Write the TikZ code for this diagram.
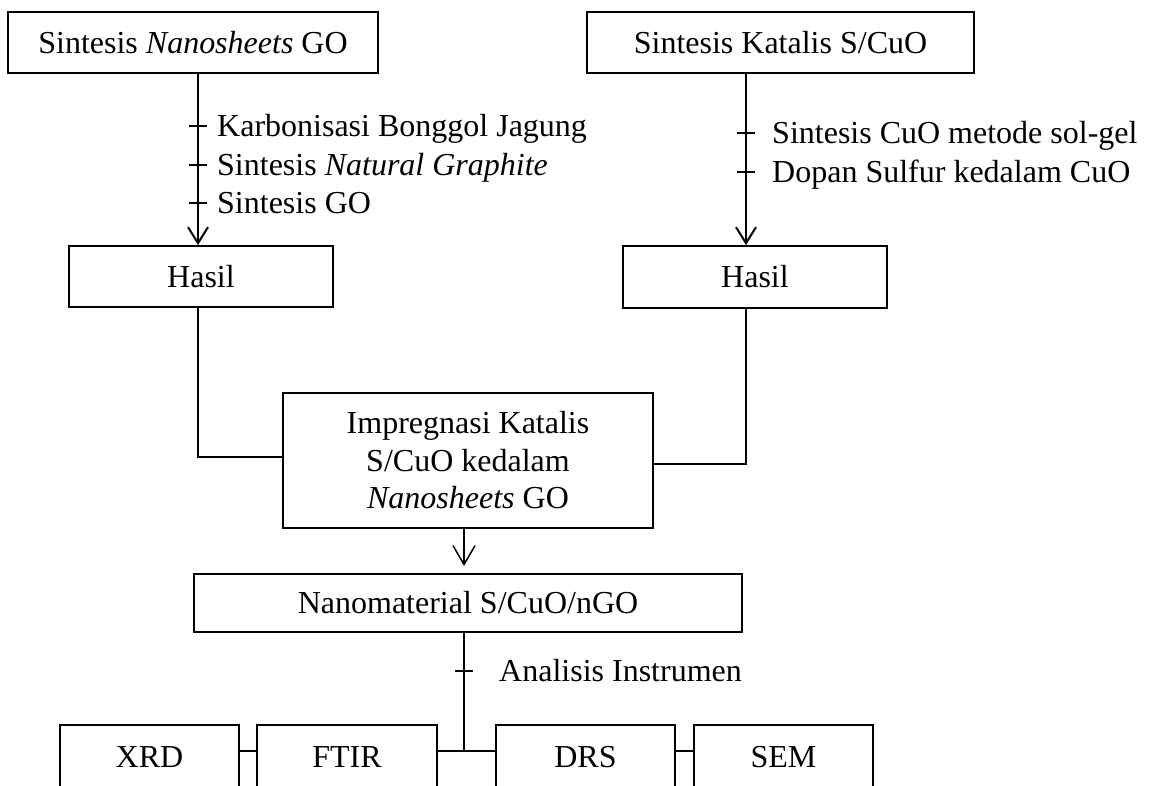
\documentclass[tikz,border=0pt]{standalone}
\usepackage{fontspec}
\setmainfont{Liberation Serif}
\usetikzlibrary{arrows.meta}
\tikzset{
  box/.style={draw, line width=1.9pt, inner sep=0pt, align=center},
  link/.style={line width=2pt},
  thinlink/.style={line width=1.5pt},
  arr/.style={link, -{Straight Barb[length=16pt,width=20pt,line width=2pt]}},
  thinarr/.style={thinlink, -{Straight Barb[length=19pt,width=22pt,line width=1.5pt]}},
  lbl/.style={anchor=base west, inner sep=0pt}
}
\begin{document}
\begin{tikzpicture}[font=\fontsize{32}{37.5}\selectfont]
				\useasboundingbox (0,0) rectangle (1151pt,786pt);
				\clip (0,0) rectangle (1151pt,786pt);
				% boxes
				\node[box, minimum width=370pt, minimum height=61pt] (sintGO) at (193pt,743.5pt) {Sintesis \textit{Nanosheets} GO};
				\node[box, minimum width=387pt, minimum height=61pt] (sintCuO) at (780.5pt,743.5pt) {Sintesis Katalis S/CuO};
				\node[box, minimum width=264pt, minimum height=61pt] (hasilGO) at (201pt,509.5pt) {Hasil};
				\node[box, minimum width=264pt, minimum height=62pt] (hasilCuO) at (755pt,509pt) {Hasil};
				\node[box, minimum width=370pt, minimum height=135pt] (impreg) at (468pt,325.5pt) {Impregnasi Katalis\\S/CuO kedalam\\\textit{Nanosheets} GO};
				\node[box, minimum width=548pt, minimum height=58pt] (nano) at (468pt,183pt) {Nanomaterial S/CuO/nGO};
				\node[box, minimum width=179pt, minimum height=64pt] (xrd) at (149.5pt,29pt) {XRD};
				\node[box, minimum width=180pt, minimum height=64pt] (ftir) at (347pt,29pt) {FTIR};
				\node[box, minimum width=179pt, minimum height=64pt] (drs) at (585.5pt,29pt) {DRS};
				\node[box, minimum width=179pt, minimum height=64pt] (sem) at (783.5pt,29pt) {SEM};
				% columns
				\coordinate (kolGO) at (198pt,0);
				\coordinate (kolCuO) at (746pt,0);
				\coordinate (kolMid) at (464pt,0);
				\coordinate (bus) at (464pt,35pt);
				\coordinate (tA) at (198pt,660pt);
				\coordinate (tB) at (198pt,621pt);
				\coordinate (tC) at (198pt,583pt);
				\coordinate (tD) at (746pt,653pt);
				\coordinate (tE) at (746pt,614pt);
				\coordinate (tF) at (464pt,115pt);
				% connectors
				\draw[arr] (sintGO.south -| kolGO) -- (hasilGO.north -| kolGO);
				\draw[arr] (sintCuO.south -| kolCuO) -- (hasilCuO.north -| kolCuO);
				\draw[link] (hasilGO.south -| kolGO) |- ([yshift=3.5pt]impreg.west);
				\draw[link] (hasilCuO.south -| kolCuO) |- ([yshift=-3.5pt]impreg.east);
				\draw[thinarr, shorten >=7pt] (impreg.south -| kolMid) -- (nano.north -| kolMid);
				\draw[thinlink] (nano.south -| bus) -- (bus);
				\draw[thinlink] (xrd.east |- bus) -- (ftir.west |- bus);
				\draw[thinlink] (ftir.east |- bus) -- (drs.west |- bus);
				\draw[thinlink] (drs.east |- bus) -- (sem.west |- bus);
				\foreach \P in {tA,tB,tC,tD,tE,tF} \draw[thinlink] ([xshift=-9pt]\P) -- ([xshift=9pt]\P);
				% labels
				\node[lbl] (lblA) at ([xshift=19pt,yshift=-11pt]tA) {Karbonisasi Bonggol Jagung};
				\node[lbl] (lblB) at ([xshift=19pt,yshift=-11pt]tB) {Sintesis \textit{Natural Graphite}};
				\node[lbl] (lblC) at ([xshift=19pt,yshift=-11pt]tC) {Sintesis GO};
				\node[lbl] (lblD) at ([xshift=26pt,yshift=-11pt]tD) {Sintesis CuO metode sol-gel};
				\node[lbl] (lblE) at ([xshift=26pt,yshift=-11pt]tE) {Dopan Sulfur kedalam CuO};
				\node[lbl] (lblF) at ([xshift=35pt,yshift=-11pt]tF) {Analisis Instrumen};
			\end{tikzpicture}
\end{document}
